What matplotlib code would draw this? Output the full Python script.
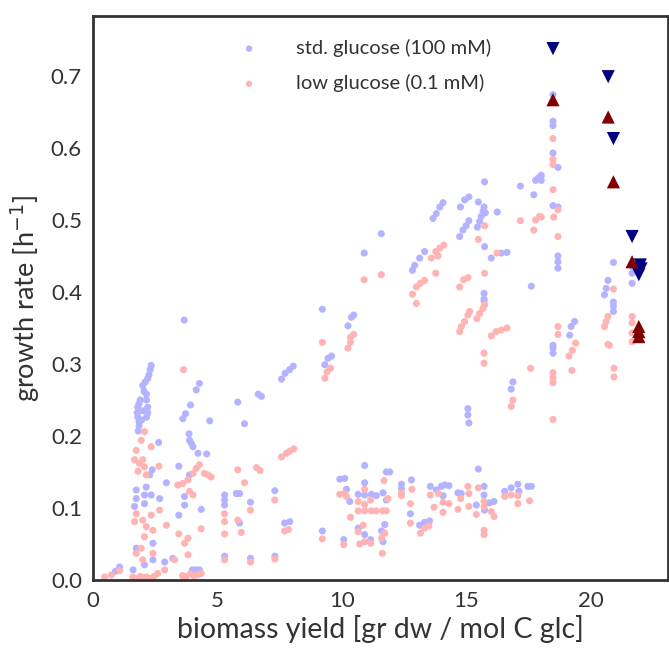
import matplotlib
matplotlib.use('Agg')
import matplotlib.pyplot as plt

# std. glucose (100 mM) - model points
std_x = [0.9, 1.07, 1.61, 2.07, 2.41, 2.88, 3.21, 4.0, 4.15, 4.28, 1.74, 2.41,
         2.34, 2.3, 2.25, 2.2, 2.1, 2.0, 2.05, 2.15, 1.9, 1.85, 1.8, 1.78, 1.8, 1.85, 1.85, 1.82,
         2.15, 2.2, 2.2, 2.15, 2.0, 1.95, 2.64, 2.38, 2.28, 2.14, 1.74, 2.07, 2.34, 2.68, 1.74,
         2.07, 1.67, 2.95, 3.45, 3.45, 3.68, 4.35, 3.68, 3.88,
         3.67, 4.28, 4.15, 3.92, 3.72, 3.61, 3.86, 3.88, 3.95, 4.02, 4.22, 4.57, 4.69, 5.82, 6.09,
         5.29, 5.29, 5.29, 5.29, 5.89, 5.76, 5.89, 6.33, 6.33, 6.64, 6.77, 7.58, 7.72, 7.9, 8.05,
         7.31, 7.31, 7.7, 7.91, 9.22, 9.22, 9.32, 9.45, 9.59, 10.25, 10.39, 10.48, 10.9, 11.59,
         10.92, 9.92, 10.12, 10.92, 11.79, 11.93, 10.19, 10.66, 10.92, 11.19, 11.39, 11.66, 10.32,
         11.79, 10.66, 10.92, 11.16, 11.73, 11.6, 11.66, 10.08, 12.4, 12.4, 12.8, 12.76, 13.56,
         13.8, 14.0, 14.14, 14.31, 14.07, 14.67, 14.8, 15.49, 15.72, 15.72, 15.41, 15.74, 15.94,
         16.12, 16.55, 16.81, 17.08, 17.48, 17.62, 13.13, 13.33, 13.53, 17.12,
         12.93, 13.13, 13.33, 12.84, 13.67, 13.8, 13.94, 14.07, 14.77, 14.94, 15.11, 15.11, 15.0,
         14.87, 14.74, 15.72, 15.68, 15.61, 15.54, 15.45, 15.77, 15.49, 15.74, 16.25, 17.18, 17.72,
         17.79, 17.89, 18.0, 15.74, 16.01, 16.41, 16.64, 17.62, 15.72, 15.72, 15.72, 15.07, 15.07,
         15.11, 16.88, 16.81,
         18.49, 18.49, 18.49, 18.49, 18.69, 18.02, 18.02, 18.49, 18.69, 18.69, 18.69, 18.69, 18.49,
         18.49, 18.49, 19.36, 19.22, 19.16, 20.92, 20.7, 20.63, 20.56, 20.92, 20.92, 20.92, 21.67,
         21.67, 21.67]
std_y = [0.012, 0.018, 0.014, 0.021, 0.028, 0.025, 0.03, 0.014, 0.014, 0.014, 0.044, 0.051,
         0.298, 0.292, 0.285, 0.28, 0.275, 0.27, 0.262, 0.258, 0.25, 0.245, 0.24, 0.232, 0.226, 0.22,
         0.214, 0.207, 0.25, 0.24, 0.232, 0.226, 0.235, 0.222, 0.191, 0.153, 0.146, 0.129, 0.125,
         0.118, 0.118, 0.113, 0.113, 0.106, 0.102, 0.135, 0.158, 0.09, 0.104, 0.098, 0.116, 0.146,
         0.361, 0.273, 0.264, 0.243, 0.231, 0.224, 0.203, 0.194, 0.19, 0.185, 0.176, 0.175, 0.221,
         0.247, 0.217, 0.118, 0.111, 0.104, 0.033, 0.12, 0.12, 0.079, 0.108, 0.03, 0.258, 0.255,
         0.279, 0.287, 0.292, 0.297, 0.124, 0.033, 0.079, 0.081, 0.068, 0.376, 0.299, 0.308, 0.311,
         0.353, 0.365, 0.368, 0.454, 0.481,
         0.159, 0.14, 0.141, 0.135, 0.15, 0.15, 0.126, 0.119, 0.118, 0.119, 0.117, 0.121, 0.109,
         0.111, 0.072, 0.063, 0.056, 0.077, 0.068, 0.053, 0.056, 0.133, 0.127, 0.139, 0.092, 0.13,
         0.125, 0.13, 0.132, 0.131, 0.117, 0.121, 0.12, 0.154, 0.13, 0.118, 0.104, 0.097, 0.107,
         0.109, 0.123, 0.128, 0.133, 0.13, 0.13, 0.076, 0.08, 0.082, 0.123,
         0.437, 0.447, 0.456, 0.43, 0.502, 0.509, 0.518, 0.524, 0.518, 0.528, 0.532, 0.499, 0.492,
         0.486, 0.477, 0.518, 0.512, 0.505, 0.498, 0.49, 0.51, 0.525, 0.553, 0.511, 0.547, 0.535,
         0.555, 0.558, 0.561, 0.463, 0.447, 0.454, 0.455, 0.408, 0.398, 0.39, 0.387, 0.238, 0.229,
         0.218, 0.275, 0.265,
         0.674, 0.637, 0.631, 0.593, 0.573, 0.562, 0.555, 0.52, 0.518, 0.45, 0.442, 0.433, 0.326,
         0.315, 0.322, 0.359, 0.352, 0.34, 0.441, 0.416, 0.405, 0.396, 0.386, 0.38, 0.373, 0.435,
         0.426, 0.412]

# low glucose (0.1 mM) - model points
low_x = [0.47, 0.74, 1.07, 1.6, 1.75, 1.9, 2.0, 2.15, 2.3, 2.45, 2.6, 2.88, 3.6, 3.75, 3.9,
         4.05, 4.2, 4.35,
         2.07, 1.94, 2.34, 1.74, 1.67, 1.87, 2.07, 1.81, 2.14, 2.0, 2.65, 1.74, 1.67, 2.0, 2.34,
         2.14, 2.41, 2.07, 2.68, 2.95, 1.94, 1.74, 2.0, 2.41, 3.28, 3.82, 3.82, 3.68, 3.45, 4.35,
         3.64, 4.28, 4.15, 4.02, 3.82, 3.61, 3.41, 3.88, 4.02, 4.48, 4.62, 4.75, 5.29, 5.29, 5.29,
         5.29, 5.82, 6.09, 5.82, 5.96, 6.33, 6.33, 6.57, 6.71, 7.58, 7.78, 7.91, 8.07, 7.31, 7.31,
         7.7, 7.86, 9.22, 9.22, 9.32, 9.41, 9.55, 10.25, 10.35, 10.35, 10.48, 10.9, 11.59,
         9.92, 10.12, 10.19, 10.92, 10.66, 10.92, 10.66, 10.92, 11.19, 11.39, 11.66, 11.79, 11.7,
         11.86, 10.35, 11.16, 10.86, 10.66, 10.72, 10.92, 11.16, 11.6, 11.73, 11.63, 10.08, 12.4,
         12.4, 12.82, 12.76, 12.76, 13.56, 13.71, 13.89, 14.07, 14.07, 14.31, 14.67, 14.78, 15.07,
         15.11, 15.11, 15.41, 15.49, 15.72, 15.72, 15.72, 15.72, 16.01, 16.12, 16.55, 16.81, 17.08,
         17.08, 17.55, 13.16, 13.33, 13.5,
         13.0, 12.84, 13.0, 13.16, 13.33, 13.6, 13.78, 13.94, 14.1, 13.87, 13.78, 14.74, 14.9,
         15.07, 14.74, 14.81, 14.94, 15.07, 15.14, 15.43, 15.54, 15.67, 15.74, 16.01, 16.21, 16.41,
         16.64, 15.74, 15.49, 16.24, 15.74, 17.18, 17.79, 17.95, 17.72, 15.72, 15.72, 16.88, 16.81,
         17.59, 18.49, 18.49, 18.49, 18.49,
         18.49, 18.49, 18.49, 18.49, 18.69, 18.52, 18.02, 18.69, 18.69, 18.69, 19.4, 19.27, 19.13,
         19.25, 20.7, 20.63, 20.56, 20.7, 20.92, 20.76, 20.94, 20.94, 21.67, 21.67, 21.67, 21.67]
low_y = [0.004, 0.007, 0.013, 0.004, 0.002, 0.005, 0.003, 0.004, 0.002, 0.005, 0.009, 0.014,
         0.006, 0.005, 0.008, 0.006, 0.007, 0.009,
         0.206, 0.194, 0.185, 0.18, 0.167, 0.162, 0.157, 0.151, 0.146, 0.167, 0.158, 0.092, 0.081,
         0.083, 0.09, 0.074, 0.069, 0.06, 0.097, 0.076, 0.044, 0.037, 0.028, 0.037, 0.028, 0.035,
         0.058, 0.051, 0.064, 0.071, 0.292, 0.16, 0.155, 0.148, 0.139, 0.134, 0.132, 0.123, 0.118,
         0.148, 0.146, 0.143, 0.092, 0.081, 0.064, 0.028, 0.153, 0.135, 0.083, 0.066, 0.097, 0.025,
         0.156, 0.152, 0.171, 0.176, 0.179, 0.182, 0.111, 0.029, 0.068, 0.07, 0.057, 0.33, 0.28,
         0.289, 0.294, 0.322, 0.33, 0.337, 0.341, 0.417, 0.424,
         0.119, 0.12, 0.116, 0.126, 0.109, 0.105, 0.096, 0.096, 0.096, 0.096, 0.096, 0.096, 0.138,
         0.113, 0.087, 0.111, 0.076, 0.067, 0.05, 0.053, 0.051, 0.058, 0.065, 0.037, 0.049, 0.121,
         0.117, 0.126, 0.106, 0.079, 0.118, 0.101, 0.12, 0.108, 0.094, 0.106, 0.098, 0.113, 0.13,
         0.12, 0.102, 0.091, 0.128, 0.109, 0.102, 0.069, 0.063, 0.095, 0.088, 0.116, 0.118, 0.117,
         0.106, 0.11, 0.065, 0.072, 0.075,
         0.384, 0.397, 0.407, 0.412, 0.416, 0.447, 0.456, 0.461, 0.465, 0.45, 0.426, 0.407, 0.417,
         0.42, 0.345, 0.352, 0.359, 0.368, 0.373, 0.363, 0.37, 0.377, 0.382, 0.339, 0.345, 0.347,
         0.35, 0.492, 0.473, 0.454, 0.426, 0.499, 0.5, 0.505, 0.486, 0.315, 0.301, 0.25, 0.241,
         0.294, 0.223, 0.288, 0.281, 0.274,
         0.613, 0.584, 0.577, 0.542, 0.514, 0.504, 0.504, 0.477, 0.352, 0.341, 0.329, 0.319, 0.311,
         0.291, 0.366, 0.359, 0.352, 0.327, 0.404, 0.326, 0.294, 0.282, 0.366, 0.357, 0.343, 0.331]

# measured points
meas_std_x = [18.49, 20.71, 20.92, 21.67, 22.0, 22.03, 21.94]
meas_std_y = [0.738, 0.699, 0.613, 0.477, 0.4375, 0.432, 0.424]
meas_low_x = [18.49, 20.71, 20.92, 21.67, 21.94, 21.94, 21.94]
meas_low_y = [0.667, 0.643, 0.553, 0.442, 0.352, 0.345, 0.338]

plt.rcParams['font.family'] = ['Lato', 'DejaVu Sans']
txt = '#333333'

fig = plt.figure(figsize=(6.69, 6.48), dpi=100)
ax = fig.add_axes([0.139, 0.105, 0.859, 0.870])

ax.scatter(std_x, std_y, s=26, color='#b3b3ff', edgecolors='none', label='std. glucose (100 mM)')
ax.scatter(low_x, low_y, s=26, color='#ffb3b3', edgecolors='none', label='low glucose (0.1 mM)')
ax.scatter(meas_std_x, meas_std_y, s=90, marker='v', color='#000080', edgecolors='none')
ax.scatter(meas_low_x, meas_low_y, s=90, marker='^', color='#800000', edgecolors='none')

ax.set_xlim(0, 23.1)
ax.set_ylim(0, 0.783)
ax.set_xticks([0, 5, 10, 15, 20])
ax.set_yticks([0, 0.1, 0.2, 0.3, 0.4, 0.5, 0.6, 0.7])
ax.set_yticklabels(['0.0', '0.1', '0.2', '0.3', '0.4', '0.5', '0.6', '0.7'])
ax.tick_params(length=0, labelsize=16, colors=txt, pad=8)
for sp in ax.spines.values():
    sp.set_linewidth(2)
    sp.set_color(txt)

ax.set_xlabel('biomass yield [gr dw / mol C glc]', fontsize=20.5, color=txt, labelpad=3)
ax.set_ylabel('growth rate [h$^{-1}$]', fontsize=19.5, color=txt, labelpad=6)

leg = ax.legend(loc='upper left', bbox_to_anchor=(0.205, 0.992), frameon=False,
                fontsize=14.5, handletextpad=1.35, labelspacing=0.85, markerscale=0.9)
for t in leg.get_texts():
    t.set_color(txt)

fig.savefig('out.png', dpi=100)
